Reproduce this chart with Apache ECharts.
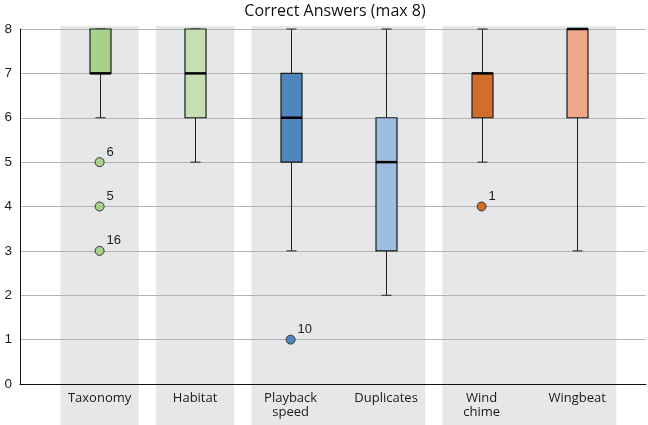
<!DOCTYPE html>
<html><head><meta charset="utf-8">
<script src="https://cdn.jsdelivr.net/npm/echarts@6/dist/echarts.min.js"></script>
<style>html,body{margin:0;padding:0;background:#fff}#c{width:648px;height:425px}</style>
</head><body><div id="c"></div>
<script>
const categories = ['Taxonomy', 'Habitat', 'Playback\nspeed', 'Duplicates', 'Wind\nchime', 'Wingbeat'];
const mins    = [6, 5, 3, 2, 5, 3];
const q1s     = [7, 6, 5, 3, 6, 6];
const medians = [7, 7, 6, 5, 7, 8];
const q3s     = [8, 8, 7, 6, 7, 8];
const maxs    = [8, 8, 8, 8, 8, 8];
// outliers: [category index, value, case label]
const outliers = [[0, 5, '6'], [0, 4, '5'], [0, 3, '16'], [2, 1, '10'], [4, 4, '1']];
// category groups shaded together
const panelGroups = [[0], [1], [2, 3], [4, 5]];
const yTicks = [0, 1, 2, 3, 4, 5, 6, 7, 8];

const colors = ['#a9d18e', '#c5e0b4', '#4e86bd', '#9dbde3', '#d26e2d', '#f1a789'];

const boxData = categories.map((c, i) => [i, mins[i], q1s[i], medians[i], q3s[i], maxs[i]]);
const panelData = panelGroups.map(g => [g[0], g[g.length - 1]]);
const outlierData = outliers.map(o => ({ value: [o[0], o[1]], label: o[2], itemStyle: { color: colors[o[0]] } }));

const chart = echarts.init(document.getElementById('c'), null, { renderer: 'canvas' });
const HW = 0.41;   // half-width of shaded panel, in category units
const BOX = 21, CAP = 10;

chart.setOption({
  animation: false,
  title: {
    text: 'Correct Answers (max 8)', left: 335, textAlign: 'center', top: 3, padding: 0,
    textStyle: { fontFamily: 'Open Sans', fontSize: 16, fontWeight: 'normal', color: '#111' }
  },
  grid: { left: 20, right: 2, top: 29, bottom: 41, containLabel: false },
  xAxis: {
    type: 'value', min: -0.8335, max: 5.7215,
    axisLine: { show: true, onZero: false, lineStyle: { color: '#111', width: 1 } },
    axisTick: { show: false },
    splitLine: { show: false },
    axisLabel: {
      customValues: [0, 1, 2, 3, 4, 5], showMinLabel: true, showMaxLabel: true,
      formatter: v => categories[Math.round(v)] || '',
      fontFamily: 'Open Sans', fontSize: 13, color: '#1a1a1a', lineHeight: 14, margin: 7
    }
  },
  yAxis: {
    type: 'value', min: 0, max: 8, interval: 1,
    axisLine: { show: true, onZero: false, lineStyle: { color: '#111', width: 1 } },
    axisTick: { show: false },
    splitLine: { show: true, lineStyle: { color: '#b3b3b3', width: 1 } },
    axisLabel: { fontFamily: 'Liberation Sans', fontSize: 13.5, color: '#1a1a1a', margin: 8,
      customValues: yTicks }
  },
  series: [
    {
      type: 'custom', z: -5, silent: true, clip: false,
      data: panelData,
      renderItem: (params, api) => {
        const a = api.coord([api.value(0) - HW, 8]);
        const b = api.coord([api.value(1) + HW, 0]);
        return { type: 'rect', shape: { x: a[0], y: a[1] - 3, width: b[0] - a[0], height: api.getHeight() - a[1] + 3 },
          style: { fill: '#e6e7e8' } };
      }
    },
    {
      type: 'custom', z: 3, clip: false,
      data: boxData,
      encode: { x: 0, y: [1, 2, 3, 4, 5] },
      renderItem: (params, api) => {
        const i = api.value(0);
        const pMin = api.coord([i, api.value(1)]);
        const pQ1 = api.coord([i, api.value(2)]);
        const pMed = api.coord([i, api.value(3)]);
        const pQ3 = api.coord([i, api.value(4)]);
        const pMax = api.coord([i, api.value(5)]);
        const x = Math.round(pMin[0]) + 0.5;
        const ls = { stroke: '#222', lineWidth: 1 };
        const children = [
          { type: 'line', shape: { x1: x, y1: pMin[1], x2: x, y2: pQ1[1] }, style: ls },
          { type: 'line', shape: { x1: x, y1: pQ3[1], x2: x, y2: pMax[1] }, style: ls },
          { type: 'line', shape: { x1: x - CAP / 2, y1: pMin[1], x2: x + CAP / 2, y2: pMin[1] }, style: ls },
          { type: 'line', shape: { x1: x - CAP / 2, y1: pMax[1], x2: x + CAP / 2, y2: pMax[1] }, style: ls },
          { type: 'rect', shape: { x: x - BOX / 2, y: pQ3[1], width: BOX, height: pQ1[1] - pQ3[1] },
            style: { fill: colors[i], stroke: '#1a1a1a', lineWidth: 1.2 } },
          { type: 'line', shape: { x1: x - BOX / 2, y1: pMed[1], x2: x + BOX / 2, y2: pMed[1] },
            style: { stroke: '#000', lineWidth: 2.5 } }
        ];
        return { type: 'group', children };
      }
    },
    {
      type: 'scatter', z: 4, clip: false,
      symbol: 'circle', symbolSize: 9,
      itemStyle: { borderColor: '#333', borderWidth: 1, opacity: 1 },
      label: {
        show: true, position: 'right', distance: 2, offset: [0, -10],
        formatter: p => p.data.label,
        fontFamily: 'Liberation Sans', fontSize: 13, color: '#1a1a1a'
      },
      data: outlierData
    }
  ]
});
</script></body></html>
